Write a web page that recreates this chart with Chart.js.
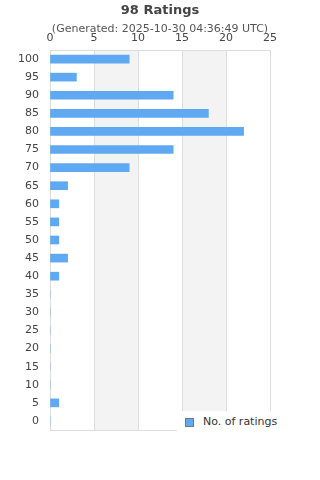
<!DOCTYPE html>
<html>
<head>
<meta charset="utf-8">
<script src="https://cdn.jsdelivr.net/npm/chart.js@4"></script>
<style>
  html, body { margin: 0; padding: 0; background: #fff; }
  #wrap { position: relative; width: 320px; height: 480px; font-family: "DejaVu Sans", sans-serif; }
  #title { position: absolute; left: 0; top: 2px; width: 320px; text-align: center; font-size: 13px; font-weight: bold; color: #444; }
  #subtitle { position: absolute; left: 0; top: 22px; width: 320px; text-align: center; font-size: 11px; color: #555; }
  #legend { position: absolute; left: 177px; top: 411px; width: 130px; height: 24px; background: #fff; font-size: 11px; color: #333; }
  #legend .box { position: absolute; left: 8px; top: 7px; width: 7px; height: 7px; background: #5fa8f2; border: 1px solid #777; }
  #legend .txt { position: absolute; left: 26px; top: 4px; }
</style>
</head>
<body>
<div id="wrap">
  <canvas id="ratingsChart" width="320" height="480"></canvas>
  <div id="title">98 Ratings</div>
  <div id="subtitle">(Generated: 2025-10-30 04:36:49 UTC)</div>
  <div id="legend"><span class="box"></span><span class="txt">No. of ratings</span></div>
</div>
<script>
const categories = ["100", "95", "90", "85", "80", "75", "70", "65", "60", "55", "50",
  "45", "40", "35", "30", "25", "20", "15", "10", "5", "0"];
const ratingCounts = [9, 3, 14, 18, 22, 14, 9, 2, 1, 1, 1, 2, 1, 0, 0, 0, 0, 0, 0, 1, 0];
const shadedBands = [[5, 10], [15, 20]];

const gridColor = "#dddddd";

// alternating shaded columns + frame round the plot
const plotDecor = {
  id: "plotDecor",
  beforeDraw(chart) {
    const { ctx, chartArea, scales } = chart;
    ctx.save();
    ctx.fillStyle = "#f3f3f3";
    shadedBands.forEach(([a, b]) => {
      const x1 = scales.x.getPixelForValue(a);
      const x2 = scales.x.getPixelForValue(b);
      ctx.fillRect(x1, chartArea.top, x2 - x1, chartArea.bottom - chartArea.top);
    });
    ctx.restore();
  },
  beforeDatasetsDraw(chart) {
    const { ctx, chartArea } = chart;
    ctx.save();
    ctx.strokeStyle = gridColor;
    ctx.lineWidth = 1;
    ctx.strokeRect(Math.round(chartArea.left) + 0.5, Math.round(chartArea.top) + 0.5,
      Math.round(chartArea.right - chartArea.left), Math.round(chartArea.bottom - chartArea.top));
    ctx.restore();
  }
};

new Chart(document.getElementById("ratingsChart"), {
  type: "bar",
  data: {
    labels: categories,
    datasets: [{
      label: "No. of ratings",
      data: ratingCounts,
      backgroundColor: "#5fa8f2",
      barThickness: 8
    }]
  },
  options: {
    indexAxis: "y",
    responsive: false,
    animation: false,
    layout: { padding: { top: 30, right: 50, bottom: 50, left: 0 } },
    plugins: {
      legend: { display: false },
      tooltip: { enabled: false }
    },
    scales: {
      x: {
        position: "top",
        min: 0,
        max: 25,
        ticks: {
          stepSize: 5,
          padding: 5,
          color: "#444",
          font: { family: "DejaVu Sans", size: 11 }
        },
        grid: { color: gridColor, drawTicks: false },
        border: { display: false },
        afterFit(scale) { scale.height = 20; }
      },
      y: {
        ticks: {
          padding: 11,
          color: "#444",
          font: { family: "DejaVu Sans", size: 11 }
        },
        grid: { display: false, drawTicks: false },
        border: { display: false },
        afterFit(scale) { scale.width = 50; }
      }
    }
  },
  plugins: [plotDecor]
});
</script>
</body>
</html>
